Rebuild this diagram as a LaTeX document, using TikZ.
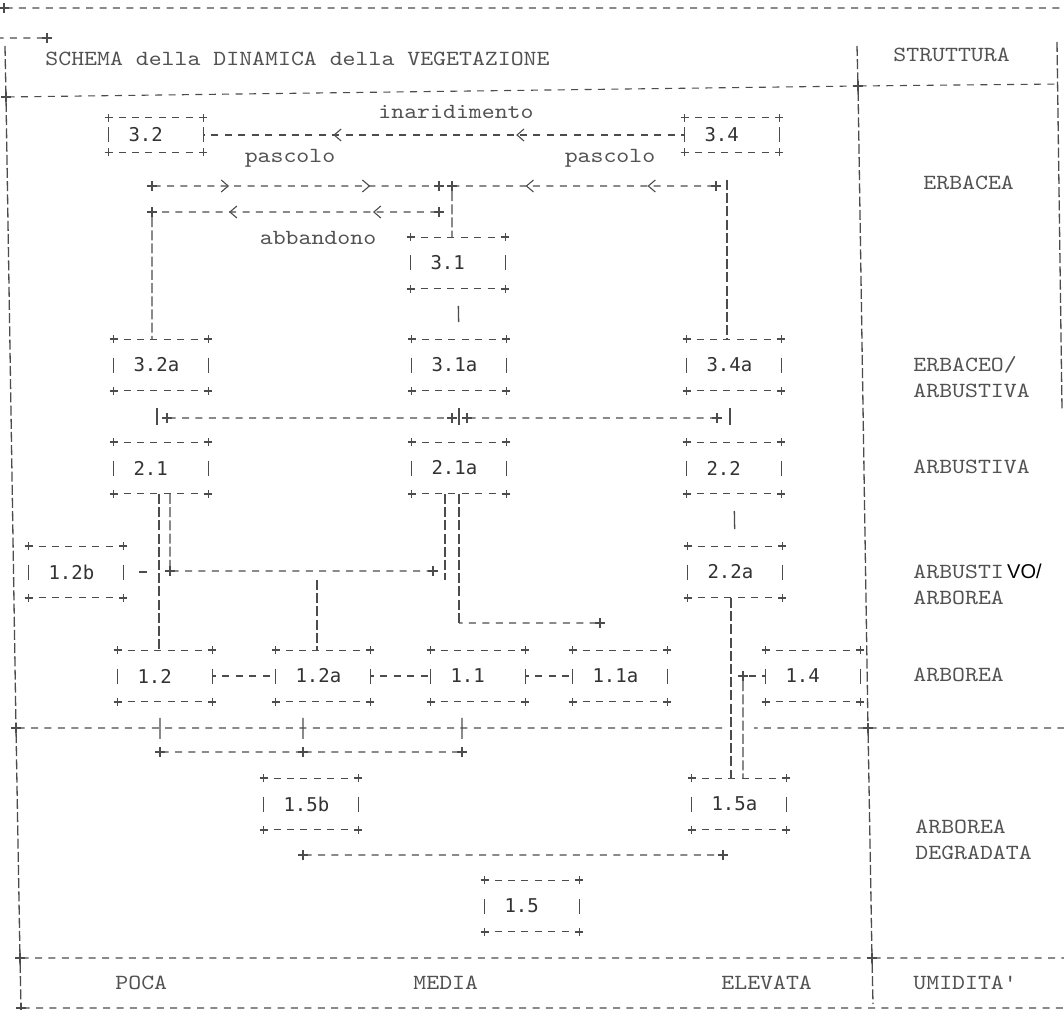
\documentclass[tikz,border=0pt]{standalone}
\usepackage{fontspec}
\usetikzlibrary{arrows.meta,decorations.markings,shapes.misc}
\newfontfamily\typefont{lmmono10-regular.otf}[FakeStretch=1.14]
\newfontfamily\labfont{DejaVu Sans Mono}
\newfontfamily\corrfont{Liberation Sans}
\definecolor{ink}{gray}{0.30}
\definecolor{txt}{gray}{0.32}

\begin{document}
\begin{tikzpicture}[
    x=0.5pt, y=-0.5pt,
    >={Straight Barb[length=3.5pt,width=6pt]},
    hl/.style={draw=ink, line width=0.55pt, dash pattern=on 3.5pt off 3.21pt, dash phase=1.75pt},
    vl/.style={draw=ink, line width=0.65pt, dash pattern=on 5pt off 1.6pt},
    bar/.style={draw=ink, line width=0.65pt, solid},
    vbar/.style={bar, shorten <=8.5pt, shorten >=8.5pt},
    tick/.style={bar, shorten <=8pt, shorten >=4pt},
    pl/.style={cross out, draw=ink, solid, line width=0.6pt, rotate=45,
               minimum size=3pt, inner sep=0pt},
    mk/.style 2 args={postaction={decorate, decoration={markings,
               mark=at position #1 with {\arrow{>}},
               mark=at position #2 with {\arrow{>}}}}},
    box/.style={text width=27.5pt, inner xsep=9.75pt, inner ysep=0pt,
                minimum height=25.5pt, align=left, text=black!80,
                font=\labfont\fontsize{9.5}{11}\selectfont,
                append after command={
                  (\tikzlastnode.north west) edge[hl] (\tikzlastnode.north east)
                  (\tikzlastnode.south west) edge[hl] (\tikzlastnode.south east)
                  ([yshift=3.75pt]\tikzlastnode.west) edge[bar] ([yshift=-3.75pt]\tikzlastnode.west)
                  ([yshift=3.75pt]\tikzlastnode.east) edge[bar] ([yshift=-3.75pt]\tikzlastnode.east)
                  ([xshift=-2pt]\tikzlastnode.north west) edge[bar] ([xshift=2pt]\tikzlastnode.north west)
                  ([yshift=-2pt]\tikzlastnode.north west) edge[bar] ([yshift=2pt]\tikzlastnode.north west)
                  ([xshift=-2pt]\tikzlastnode.north east) edge[bar] ([xshift=2pt]\tikzlastnode.north east)
                  ([yshift=-2pt]\tikzlastnode.north east) edge[bar] ([yshift=2pt]\tikzlastnode.north east)
                  ([xshift=-2pt]\tikzlastnode.south west) edge[bar] ([xshift=2pt]\tikzlastnode.south west)
                  ([yshift=-2pt]\tikzlastnode.south west) edge[bar] ([yshift=2pt]\tikzlastnode.south west)
                  ([xshift=-2pt]\tikzlastnode.south east) edge[bar] ([xshift=2pt]\tikzlastnode.south east)
                  ([yshift=-2pt]\tikzlastnode.south east) edge[bar] ([yshift=2pt]\tikzlastnode.south east)
                }},
    lab/.style={font=\typefont\fontsize{10.8}{13}\selectfont, text=txt, inner sep=0pt}
]
    \path[use as bounding box, fill=white] (0,0) rectangle (1064,1010);

    % frame
    \node[pl] (fT) at (4,8) {};
    \node[pl] (fS) at (47,38) {};
    \node[pl] (fH1) at (6,97) {};
    \node[pl] (fH2) at (858,86) {};
    \node[pl] (fD1) at (16,728) {};
    \node[pl] (fD2) at (868,728) {};
    \node[pl] (fE1) at (20,958) {};
    \node[pl] (fE2) at (872,958) {};
    \node[pl] (fB1) at (21,1008) {};
    \coordinate (eT) at (1064,8);
    \coordinate (eS) at (0,38);
    \coordinate (lT) at (5,46);
    \coordinate (dT) at (857,46);
    \coordinate (dB) at (873,1004);
    \coordinate (rT) at (1057,42);
    \coordinate (rB) at (1062,410);
    \coordinate (rH) at (1060,84);
    \coordinate (g1) at (722,728);
    \coordinate (g2) at (754,728);
    \coordinate (eD) at (1064,728);
    \coordinate (eE) at (1064,958);
    \coordinate (eB) at (1064,1008);

    \draw[hl] (fT) -- (eT);
    \draw[hl] (eS) -- (fS);
    \draw[vl] (lT) -- (fH1) -- (fD1) -- (fE1) -- (fB1);
    \draw[vl] (dT) -- (fH2) -- (fD2) -- (fE2) -- (dB);
    \draw[vl] (rT) -- (rB);
    \draw[hl] (fH1) -- (fH2) -- (rH);
    \draw[hl] (fD1) -- (g1);
    \draw[hl] (g2) -- (fD2) -- (eD);
    \draw[hl] (fE1) -- (fE2) -- (eE);
    \draw[hl] (fB1) -- (eB);

    \node[lab, anchor=west] (title) at (45,59) {SCHEMA della DINAMICA della VEGETAZIONE};
    \node[lab, anchor=west] (tstrut) at (893,55) {STRUTTURA};
    \node[lab, anchor=west] (serb) at (923,183) {ERBACEA};
    \node[lab, anchor=west, align=left] (serbarb) at (913,377) {ERBACEO/\\ARBUSTIVA};
    \node[lab, anchor=west] (sarb) at (913,467) {ARBUSTIVA};
    \node[lab, anchor=west, align=left] (sarbarb) at (913,584)
        {ARBUSTI{\corrfont\fontsize{10}{13}\selectfont\color{black}\,VO/}\\ARBOREA};
    \node[lab, anchor=west] (sarbo) at (913,675) {ARBOREA};
    \node[lab, anchor=west, align=left] (sdegr) at (915,840) {ARBOREA\\DEGRADATA};
    \node[lab, anchor=west] (umid) at (913,983) {UMIDITA'};
    \node[lab, anchor=west] (lpoca) at (115,983) {POCA};
    \node[lab, anchor=west] (lmedia) at (413,983) {MEDIA};
    \node[lab, anchor=west] (lelev) at (721,983) {ELEVATA};

    % boxes
    \node[box, minimum height=17pt] (b32) at (156,135) {3.2};
    \node[box, minimum height=17pt] (b34) at (732,135) {3.4};
    \node[box] (b31) at (458,263) {3.1};
    \node[box] (b32a) at (161,365) {3.2a};
    \node[box] (b31a) at (459,365) {3.1a};
    \node[box] (b34a) at (734,365) {3.4a};
    \node[box] (b21) at (161,468) {2.1};
    \node[box] (b21a) at (459,468) {2.1a};
    \node[box] (b22) at (734,468) {2.2};
    \node[box] (b22a) at (735,572) {2.2a};
    \node[box] (b12b) at (76,572) {1.2b};
    \node[box] (b12) at (165,676) {1.2};
    \node[box] (b12a) at (323,676) {1.2a};
    \node[box] (b11) at (478,676) {1.1};
    \node[box] (b11a) at (620,676) {1.1a};
    \node[box] (b14) at (813,676) {1.4};
    \node[box] (b15b) at (311,804) {1.5b};
    \node[box] (b15a) at (739,804) {1.5a};
    \node[box] (b15) at (532,906) {1.5};

    \node[lab] (linar) at (456,112) {inaridimento};
    \node[lab] (lpasc1) at (290,158) {pascolo};
    \node[lab] (lpasc2) at (610,158) {pascolo};
    \node[lab] (labb) at (318,238) {abbandono};

    % junctions
    \node[pl] (pA1) at (152,186) {};
    \node[pl] (pA2) at (439,186) {};
    \node[pl] (pA3) at (452,186) {};
    \node[pl] (pA4) at (716,186) {};
    \node[pl] (pB1) at (439,212) {};
    \node[pl] (pB2) at (152,212) {};
    \node[pl] (pC1) at (167,418) {};
    \node[pl] (pC2) at (452,418) {};
    \node[pl] (pC3) at (467,418) {};
    \node[pl] (pC4) at (717,418) {};
    \node[pl] (pD1) at (170,571) {};
    \node[pl] (pD2) at (433,571) {};
    \node[pl] (pE) at (600,623) {};
    \node[pl] (pF) at (743,676) {};
    \node[pl] (pG1) at (160,752) {};
    \node[pl] (pG2) at (303,752) {};
    \node[pl] (pG3) at (462,752) {};
    \node[pl] (pH1) at (303,855) {};
    \node[pl] (pH2) at (723,855) {};
    \coordinate (v34) at (727,180);
    \coordinate (v21l) at (159,0);
    \coordinate (v21al) at (445,580);
    \coordinate (v21ar) at (459,623);
    \coordinate (v12a) at (317,580);
    \coordinate (v22) at (731,0);

    % upper connectors
    \draw[hl, mk={0.35}{0.73}] (b34.west) -- (b32.east);
    \draw[hl, mk={0.26}{0.77}] (pA1) -- (pA2);
    \draw[hl, mk={0.25}{0.73}] (pA4) -- (pA3);
    \draw[vl] (pA3) -- (pA3 |- b31.north);
    \draw[hl, mk={0.22}{0.74}] (pB1) -- (pB2);
    \draw[vl] (pB2) -- (pB2 |- b32a.north);
    \draw[vl] (v34) -- (v34 |- b34a.north);
    \draw[vbar] (b31.south) -- (b31a.north);

    \draw[vbar] ([xshift=-2pt]b32a.south) -- ([xshift=-2pt]b21.north);
    \draw[vbar] (b31a.south) -- (b21a.north);
    \draw[vbar] ([xshift=-2pt]b34a.south) -- ([xshift=-2pt]b22.north);
    \draw[hl] (pC1) -- (pC2);
    \draw[hl] (pC3) -- (pC4);

    % lower connectors
    \draw[vl] (b21.south -| v21l) -- (b12.north -| v21l);
    \draw[vl] (b21.south -| pD1) -- (pD1);
    \draw[hl] (pD1) -- (pD2);
    \draw[vl] (b21a.south -| v21al) -- (v21al);
    \draw[vl] (b21a.south -| v21ar) -- (v21ar);
    \draw[hl] (v21ar) -- (pE);
    \draw[vl] (v12a) -- (v12a |- b12a.north);
    \draw[bar, shorten <=8pt, shorten >=6pt] (b12b.east) -- (b12b.east -| v21l);

    \draw[vbar] (b22.south) -- (b22a.north);
    \draw[vl] (b22a.south -| v22) -- (b15a.north -| v22);
    \draw[hl] (b14.west) -- (pF);
    \draw[vl] (pF) -- (pF |- b15a.north);

    \draw[hl] (b12.east) -- (b12a.west);
    \draw[hl] (b12a.east) -- (b11.west);
    \draw[hl] (b11.east) -- (b11a.west);

    \draw[tick] (b12.south -| pG1) -- (pG1);
    \draw[tick] (b12a.south -| pG2) -- (pG2);
    \draw[tick] (b11.south -| pG3) -- (pG3);
    \draw[hl] (pG1) -- (pG2) -- (pG3);
    \draw[hl] (pH1) -- (pH2);
\end{tikzpicture}
\end{document}
